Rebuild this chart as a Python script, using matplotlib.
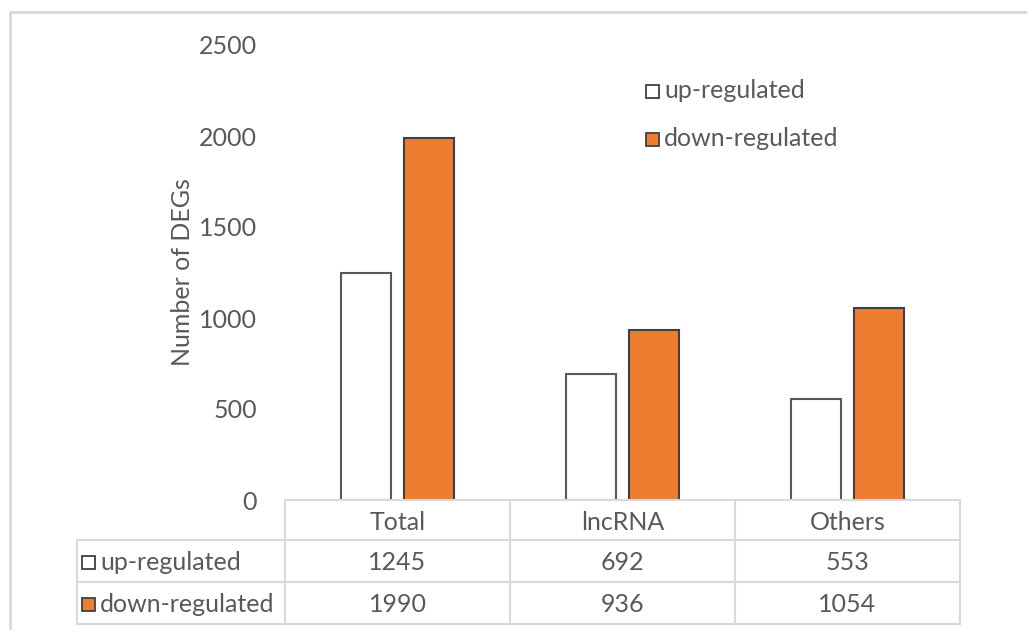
import matplotlib.pyplot as plt
from matplotlib.patches import Rectangle
from matplotlib.lines import Line2D
import numpy as np

categories = ['Total', 'lncRNA', 'Others']
series_names = ['up-regulated', 'down-regulated']
up_values = [1245, 692, 553]
down_values = [1990, 936, 1054]
y_ticks = [0, 500, 1000, 1500, 2000, 2500]

W, H = 1027, 630
text_col = '#595959'
grid_col = '#d9d9d9'
orange = '#ED7D31'
edge_col = '#404040'
fs = 18

plt.rcParams['font.family'] = ['Lato', 'DejaVu Sans']

fig = plt.figure(figsize=(W / 100, H / 100), dpi=100)


def fx(x):
    return x / W


def fy(y):
    return 1 - y / H


# plot area (pixel box 285..960 x 45..500)
ax = fig.add_axes([fx(285), fy(500), fx(960) - fx(285), fy(45) - fy(500)])
x = np.arange(len(categories))
bw = 0.222
off = 0.142
ax.bar(x - off, up_values, bw, color='white', edgecolor='#595959', linewidth=1.5)
ax.bar(x + off, down_values, bw, color=orange, edgecolor=edge_col, linewidth=1.5)
ax.set_xlim(-0.5, len(categories) - 0.5)
ax.set_ylim(0, 2500)
ax.set_xticks([])
ax.set_yticks(y_ticks)
ax.set_yticklabels([str(t) for t in y_ticks])
ax.tick_params(axis='y', length=0, pad=20, labelsize=fs, labelcolor=text_col)
for s in ax.spines.values():
    s.set_visible(False)
ax.set_ylabel('Number of DEGs', fontsize=fs, color=text_col, labelpad=4)

# legend drawn inside the plot
for i, (name, fc, ec) in enumerate(zip(series_names, ['white', orange], ['#404040', edge_col])):
    yy = 91 + i * 48
    fig.patches.append(Rectangle((fx(646), fy(yy + 7)), fx(13), 13 / H, facecolor=fc,
                                 edgecolor=ec, linewidth=1.3, transform=fig.transFigure))
    fig.text(fx(664), fy(yy), name, fontsize=fs, color=text_col, va='center', ha='left')

# data table below the plot
cols = [285, 510, 735, 960]
rows = [500, 540, 582, 624]


def hline(y, x0, x1):
    fig.lines.append(Line2D([fx(x0), fx(x1)], [fy(y), fy(y)], color=grid_col, lw=1.5,
                            transform=fig.transFigure))


def vline(x0, y0, y1):
    fig.lines.append(Line2D([fx(x0), fx(x0)], [fy(y0), fy(y1)], color=grid_col, lw=1.5,
                            transform=fig.transFigure))


hline(rows[0], cols[0], cols[-1])
for r in rows[1:]:
    hline(r, 77, cols[-1])
vline(77, rows[1], rows[-1])
for c in cols:
    vline(c, rows[0], rows[-1])

for j, cat in enumerate(categories):
    cx = (cols[j] + cols[j + 1]) / 2
    fig.text(fx(cx), fy((rows[0] + rows[1]) / 2 + 2), cat, fontsize=fs, color=text_col,
             ha='center', va='center')
    for i, vals in enumerate([up_values, down_values]):
        fig.text(fx(cx), fy((rows[i + 1] + rows[i + 2]) / 2 + 2), str(vals[j]),
                 fontsize=fs, color=text_col, ha='center', va='center')

for i, (name, fc, ec) in enumerate(zip(series_names, ['white', orange], ['#404040', edge_col])):
    yy = (rows[i + 1] + rows[i + 2]) / 2 + 1
    fig.patches.append(Rectangle((fx(82), fy(yy + 7)), fx(13), 13 / H, facecolor=fc,
                                 edgecolor=ec, linewidth=1.3, transform=fig.transFigure))
    fig.text(fx(100), fy(yy + 1), name, fontsize=fs, color=text_col, va='center', ha='left')

# outer chart frame
fig.lines.append(Line2D([fx(10), fx(10), fx(W + 5)], [0, fy(12), fy(12)], color=grid_col,
                        lw=2, transform=fig.transFigure))

fig.savefig('out.png', dpi=100)
